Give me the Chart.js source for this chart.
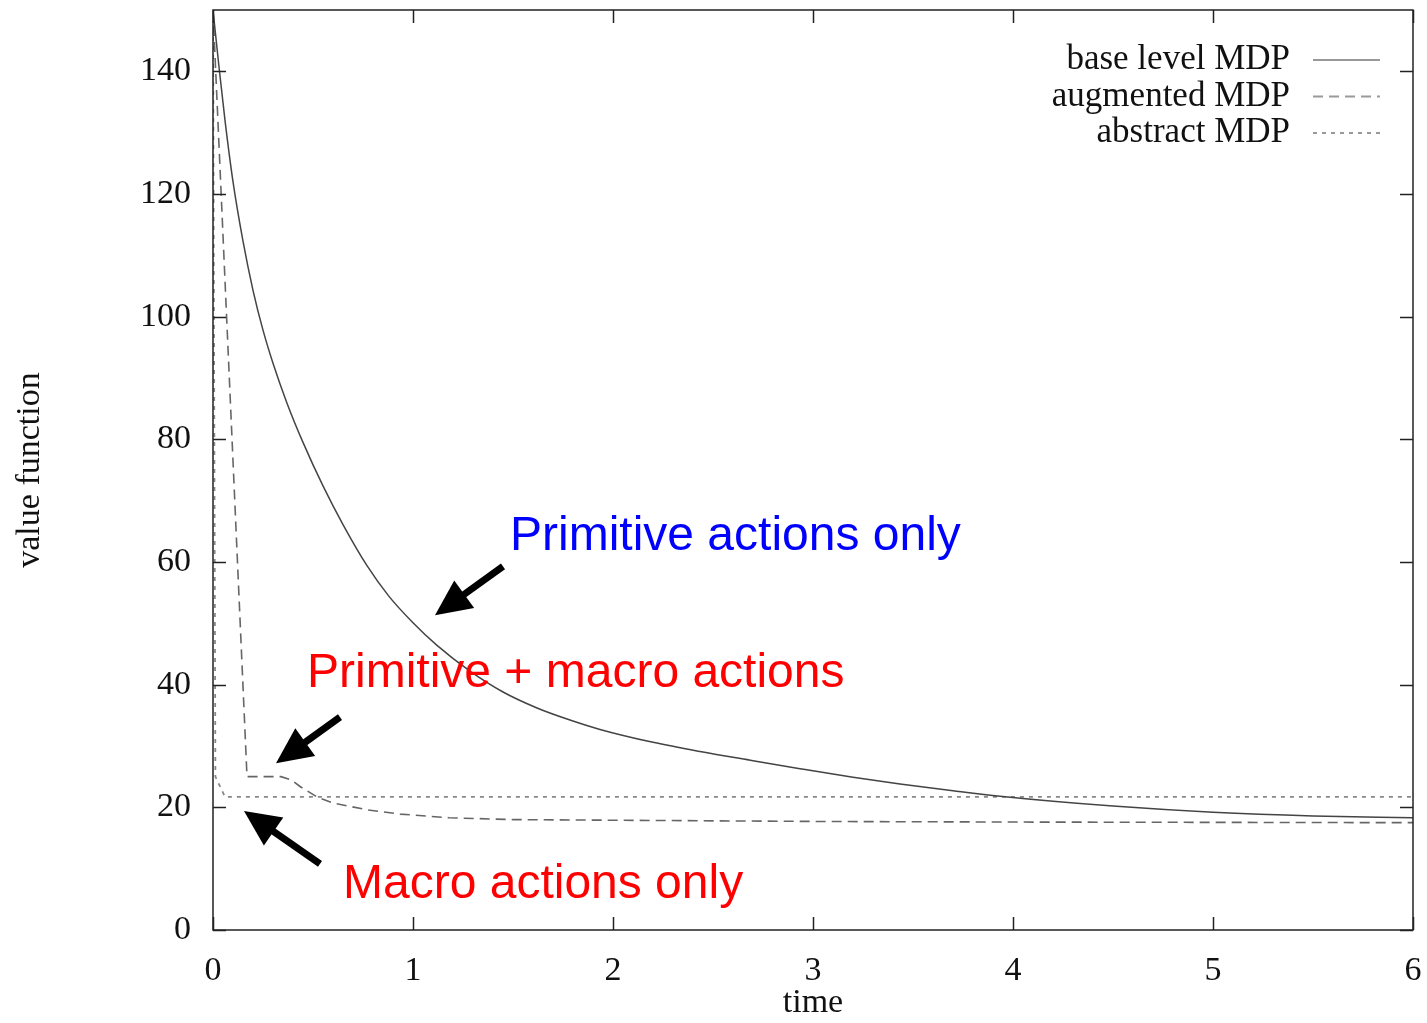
<!DOCTYPE html>
<html>
<head>
<meta charset="utf-8">
<script src="https://cdn.jsdelivr.net/npm/chart.js@4"></script>
<style>
  html, body { margin: 0; padding: 0; background: #fff; }
  #wrap { width: 1427px; height: 1023px; }
</style>
</head>
<body>
<div id="wrap"><canvas id="valueChart"></canvas></div>
<script>
// time (x) and value function (y)
const baseT = [0, 0.03, 0.06, 0.1, 0.15, 0.2, 0.25, 0.3, 0.37, 0.45, 0.55, 0.65, 0.77, 0.88, 1.0, 1.12, 1.285, 1.45, 1.62, 1.77, 1.935, 2.2, 2.435, 2.7, 2.935, 3.2, 3.435, 3.7, 3.935, 4.5, 5.0, 5.5, 6.0];
const baseV = [150, 140.7, 132, 122, 112.3, 104.3, 97.8, 92.4, 85.9, 79.5, 72.4, 66.1, 59.4, 54.4, 50.1, 46.4, 42.2, 38.8, 36.2, 34.4, 32.7, 30.6, 29.1, 27.6, 26.3, 24.9, 23.8, 22.7, 21.8, 20.2, 19.2, 18.6, 18.3];

const augT = [0, 0.17, 0.34, 0.39, 0.435, 0.52, 0.6, 0.77, 0.935, 1.18, 1.5, 2.0, 3.0, 4.0, 6.0];
const augV = [150, 25, 25, 24.5, 23.4, 21.7, 20.7, 19.6, 18.9, 18.3, 18.0, 17.9, 17.7, 17.6, 17.5];

const absT = [0, 0.012, 0.06, 6];
const absV = [150, 25, 21.7, 21.7];

const seriesNames = ['base level MDP', 'augmented MDP', 'abstract MDP'];
const xTicks = [0, 1, 2, 3, 4, 5, 6];
const yTicks = [0, 20, 40, 60, 80, 100, 120, 140];

// callouts, in data units: [text, colour, x, y]
const notes = [
  ['Primitive actions only', '#0000ff', 1.485, 61.9],
  ['Primitive + macro actions', '#ff0000', 0.47, 39.6],
  ['Macro actions only', '#ff0000', 0.65, 5.2]
];
// arrows: tail x, tail y, tip x, tip y (data units)
const arrows = [
  [1.45, 59.3, 1.11, 51.3],
  [0.635, 34.7, 0.315, 27.2],
  [0.535, 10.8, 0.155, 19.4]
];

function toPoints(xs, ys) {
  return xs.map((x, i) => ({ x: x, y: ys[i] }));
}

const serif = "'Liberation Serif', 'Times New Roman', serif";
const sans = "'Liberation Sans', Arial, sans-serif";

// frame, inward ticks on all sides, legend and callouts
const decorations = {
  id: 'decorations',
  afterDatasetsDraw(chart) {
    const ctx = chart.ctx;
    const a = chart.chartArea;
    const xs = chart.scales.x, ys = chart.scales.y;
    const tl = 13;
    ctx.save();
    ctx.strokeStyle = '#222';
    ctx.lineWidth = 1.5;
    ctx.setLineDash([]);
    ctx.strokeRect(a.left, a.top, a.right - a.left, a.bottom - a.top);
    ctx.beginPath();
    xTicks.forEach(v => {
      const px = Math.round(xs.getPixelForValue(v)) + 0.5;
      ctx.moveTo(px, a.bottom); ctx.lineTo(px, a.bottom - tl);
      ctx.moveTo(px, a.top); ctx.lineTo(px, a.top + tl);
    });
    yTicks.forEach(v => {
      const py = Math.round(ys.getPixelForValue(v)) + 0.5;
      ctx.moveTo(a.left, py); ctx.lineTo(a.left + tl, py);
      ctx.moveTo(a.right, py); ctx.lineTo(a.right - tl, py);
    });
    ctx.stroke();

    // legend
    ctx.font = '35px ' + serif;
    ctx.textAlign = 'right';
    ctx.textBaseline = 'middle';
    chart.data.datasets.forEach((ds, i) => {
      const y = a.top + 50 + i * 36.5;
      ctx.fillStyle = '#111';
      ctx.fillText(ds.label, a.right - 123, y);
      ctx.strokeStyle = '#999';
      ctx.lineWidth = 2;
      ctx.setLineDash(ds.borderDash || []);
      ctx.beginPath();
      ctx.moveTo(a.right - 100, y);
      ctx.lineTo(a.right - 33, y);
      ctx.stroke();
    });
    ctx.setLineDash([]);

    // callout texts
    ctx.font = '48px ' + sans;
    ctx.textAlign = 'left';
    ctx.textBaseline = 'alphabetic';
    notes.forEach(n => {
      ctx.fillStyle = n[1];
      ctx.fillText(n[0], xs.getPixelForValue(n[2]), ys.getPixelForValue(n[3]));
    });

    // arrows
    ctx.fillStyle = '#000';
    ctx.strokeStyle = '#000';
    ctx.lineWidth = 7;
    arrows.forEach(ar => {
      const x0 = xs.getPixelForValue(ar[0]), y0 = ys.getPixelForValue(ar[1]);
      const x1 = xs.getPixelForValue(ar[2]), y1 = ys.getPixelForValue(ar[3]);
      const ang = Math.atan2(y1 - y0, x1 - x0);
      const hl = 36, hw = 17;
      const bx = x1 - hl * Math.cos(ang), by = y1 - hl * Math.sin(ang);
      ctx.beginPath();
      ctx.moveTo(x0, y0);
      ctx.lineTo(bx + 2 * Math.cos(ang), by + 2 * Math.sin(ang));
      ctx.stroke();
      ctx.beginPath();
      ctx.moveTo(x1, y1);
      ctx.lineTo(bx + hw * Math.sin(ang), by - hw * Math.cos(ang));
      ctx.lineTo(bx - hw * Math.sin(ang), by + hw * Math.cos(ang));
      ctx.closePath();
      ctx.fill();
    });
    ctx.restore();
  }
};

const ctx = document.getElementById('valueChart').getContext('2d');
new Chart(ctx, {
  type: 'line',
  data: {
    datasets: [
      {
        label: seriesNames[0],
        data: toPoints(baseT, baseV),
        borderColor: '#444',
        borderWidth: 1.5,
        pointRadius: 0,
        cubicInterpolationMode: 'monotone',
        fill: false
      },
      {
        label: seriesNames[1],
        data: toPoints(augT, augV),
        borderColor: '#666',
        borderWidth: 1.6,
        borderDash: [10, 6],
        pointRadius: 0,
        tension: 0,
        fill: false
      },
      {
        label: seriesNames[2],
        data: toPoints(absT, absV),
        borderColor: '#888',
        borderWidth: 1.8,
        borderDash: [4, 5],
        pointRadius: 0,
        tension: 0,
        fill: false
      }
    ]
  },
  options: {
    responsive: true,
    maintainAspectRatio: false,
    animation: false,
    layout: { padding: { top: 10, right: 14, left: 0, bottom: 0 } },
    scales: {
      x: {
        type: 'linear',
        min: 0,
        max: 6,
        afterBuildTicks: axis => { axis.ticks = xTicks.map(v => ({ value: v })); },
        afterFit: scale => {
          scale.height = 93;
          scale.paddingLeft = 0;
          scale.paddingRight = 0;
        },
        grid: { display: false, drawTicks: false },
        border: { display: false },
        ticks: {
          color: '#111',
          padding: 21,
          maxRotation: 0,
          font: { family: serif, size: 34 }
        },
        title: {
          display: true,
          text: 'time',
          color: '#111',
          padding: { top: 0, bottom: 0 },
          font: { family: serif, size: 34 }
        }
      },
      y: {
        type: 'linear',
        min: 0,
        max: 150,
        afterBuildTicks: axis => { axis.ticks = yTicks.map(v => ({ value: v })); },
        afterFit: scale => {
          scale.width = 213;
          scale.paddingTop = 0;
          scale.paddingBottom = 0;
        },
        grid: { display: false, drawTicks: false },
        border: { display: false },
        ticks: {
          color: '#111',
          padding: 22,
          font: { family: serif, size: 34 }
        },
        title: {
          display: true,
          text: 'value function',
          color: '#111',
          padding: { top: 10, bottom: 0 },
          font: { family: serif, size: 34 }
        }
      }
    },
    plugins: {
      legend: { display: false },
      tooltip: { enabled: false }
    }
  },
  plugins: [decorations]
});
</script>
</body>
</html>
